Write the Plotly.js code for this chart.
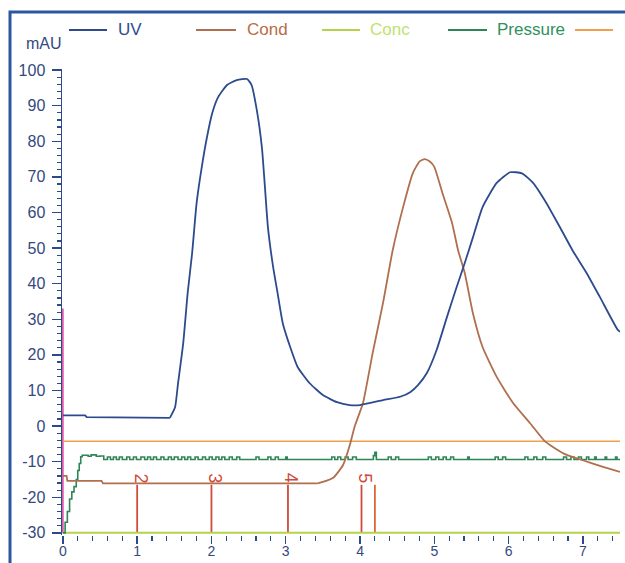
<!DOCTYPE html>
<html>
<head>
<meta charset="utf-8">
<script src="https://cdn.plot.ly/plotly-3.0.1.min.js"></script>
<style>html,body{margin:0;padding:0;background:#fff;}#chart{width:625px;height:563px;}</style>
</head>
<body>
<div id="chart"></div>
<script>
// ---- data ----
// UV baseline (straight steps) and UV peaks (smooth)
const uvBase = [[0,3.0],[0.3,3.0],[0.32,2.5],[1.0,2.4],[1.3,2.4],[1.44,2.3]];
const uvPeaks = [[1.44,2.3],[1.51,5.3],[1.55,12],[1.62,23.3],[1.68,37.4],[1.74,48.6],[1.80,62.6],[1.87,72.8],[1.94,81.2],[2.01,87.9],[2.09,92.4],[2.21,95.8],[2.34,97.2],[2.48,97.5],[2.54,95.8],[2.61,88.8],[2.68,78.1],[2.72,67.1],[2.76,55.9],[2.83,44.7],[2.89,37.4],[2.96,28.9],[3.06,22.2],[3.16,16.6],[3.32,12.1],[3.5,8.7],[3.69,6.7],[3.86,5.9],[4.0,5.9],[4.31,7.3],[4.55,8.3],[4.68,9.6],[4.78,11.5],[4.9,14.9],[5.03,21.3],[5.17,30.6],[5.3,39],[5.41,45.8],[5.52,53],[5.65,61.5],[5.84,68.3],[6.02,71.3],[6.18,71],[6.33,68.3],[6.51,62.6],[6.69,55.9],[6.86,49.4],[7.05,43],[7.23,36.2],[7.47,27],[7.5,26.5]];

// Cond baseline (straight steps) and Cond peak (smooth)
const condBase = [[0,-14],[0.05,-14],[0.06,-15.4],[0.52,-15.4],[0.54,-16.1],[3.43,-16.1]];
const condPeak = [[3.43,-16.1],[3.5,-15.7],[3.64,-14.5],[3.77,-11],[3.86,-5.5],[3.93,0],[4.04,6.5],[4.17,20.5],[4.31,34.6],[4.44,49.4],[4.58,61.5],[4.71,71],[4.8,74.3],[4.87,75],[4.94,74.3],[5.0,72.8],[5.11,65.4],[5.24,57],[5.32,49.4],[5.41,43],[5.52,31.7],[5.65,22.2],[5.84,13.8],[6.06,6.5],[6.29,0.8],[6.49,-4.3],[6.75,-7.8],[7.0,-9.6],[7.25,-11.3],[7.5,-12.9]];

const concPoints = [[0,-30],[7.5,-30]];

// pressure drawn as steps (each point = new level from that x on)
const pressurePoints = [[0,-30],[0.03,-27],[0.06,-24],[0.09,-20.5],[0.12,-18.5],[0.15,-17],[0.18,-15],[0.2,-12.5],[0.22,-10.5],[0.24,-8.6],[0.26,-8.2],[0.34,-8.5],[0.38,-8.1],[0.45,-8.5],[0.5,-8.4],[0.55,-9.4],
[0.6,-8.7],[0.64,-9.4],[0.68,-8.7],[0.72,-9.4],[0.76,-8.7],[0.8,-9.4],[0.86,-8.7],[0.9,-9.4],[0.95,-8.7],[0.99,-9.4],[1.05,-8.7],[1.1,-9.4],[1.14,-8.7],[1.18,-9.4],[1.22,-8.7],[1.26,-9.4],[1.32,-8.7],[1.36,-9.4],[1.42,-8.7],[1.46,-9.4],[1.5,-8.7],[1.55,-9.4],[1.6,-8.7],[1.64,-9.4],[1.68,-8.7],[1.72,-9.4],[1.78,-8.7],[1.82,-9.4],[1.88,-8.7],[1.92,-9.4],[1.97,-8.7],[2.01,-9.4],[2.06,-8.7],[2.1,-9.4],[2.14,-8.7],[2.18,-9.4],[2.24,-8.7],[2.28,-9.4],[2.34,-8.7],[2.38,-9.4],
[2.6,-8.7],[2.64,-9.4],[2.76,-8.7],[2.8,-9.4],[2.86,-8.7],[2.9,-9.4],[3.0,-8.7],[3.02,-9.4],[3.62,-8.7],[3.66,-9.4],[3.7,-8.7],[3.74,-9.4],[3.8,-8.7],[3.84,-9.4],[3.9,-8.7],[3.95,-9.4],[4.18,-8.3],[4.2,-7.4],[4.22,-9.4],[4.38,-8.7],[4.42,-9.4],[4.48,-8.7],[4.52,-9.4],[4.92,-8.7],[4.96,-9.4],[5.02,-8.7],[5.06,-9.4],[5.12,-8.7],[5.16,-9.4],[5.22,-8.7],[5.26,-9.4],[5.45,-8.7],[5.47,-9.4],[5.82,-8.7],[5.86,-9.4],[5.92,-8.7],[5.96,-9.4],[6.22,-8.7],[6.26,-9.4],[6.34,-8.7],[6.38,-9.4],[6.46,-8.7],[6.5,-9.4],[6.74,-8.7],[6.78,-9.4],[6.84,-8.7],[6.88,-9.4],[6.94,-8.7],[6.98,-9.4],[7.05,-8.7],[7.08,-9.4],[7.16,-8.7],[7.18,-9.4],[7.3,-8.7],[7.32,-9.4],[7.44,-8.7],[7.46,-9.4],[7.5,-9.4]];

const orangeLevel = -4.3;
const injectMark = [[0,-30],[0,33]];
const fractionX = [1.0, 2.0, 3.03, 4.02, 4.2];
const fractionLabels = ["2", "3", "4", "5", ""];
const fractionTop = -16.5;
const legendNames = ["UV", "Cond", "Conc", "Pressure", ""];
const xTicks = [0,1,2,3,4,5,6,7];
const yTicks = [-30,-20,-10,0,10,20,30,40,50,60,70,80,90,100];

// ---- styles ----
const C = {
  uv: '#2c4b8e', cond: '#b06f4e', conc: '#b4d24c', pressure: '#2f8558', orange: '#f0a04c',
  frac: '#cf4a3a', frac2: '#d9652f', inject: '#d8409a', axis: '#2c4a8a', tick: '#34497e', border: '#2b56a0'
};
const FONT = 'Liberation Sans, Arial, sans-serif';

const xs = p => p.map(d => d[0]);
const ys = p => p.map(d => d[1]);

const fracLX = [], fracLY = [];
fractionX.forEach(x => { fracLX.push(x, x, null); fracLY.push(-30, fractionTop, null); });

const traces = [
  {x: xs(injectMark), y: ys(injectMark), mode: 'lines', line: {color: C.inject, width: 1.5}},
  {x: [0, 7.5], y: [orangeLevel, orangeLevel], mode: 'lines', line: {color: C.orange, width: 1.5}},
  {x: fracLX.slice(0, 12), y: fracLY.slice(0, 12), mode: 'lines', line: {color: C.frac, width: 1.8}},
  {x: fracLX.slice(12), y: fracLY.slice(12), mode: 'lines', line: {color: C.frac2, width: 1.8}},
  {x: xs(concPoints), y: ys(concPoints), mode: 'lines', line: {color: C.conc, width: 2}},
  {x: xs(pressurePoints), y: ys(pressurePoints), mode: 'lines', line: {color: C.pressure, width: 1.6, shape: 'hv'}},
  {x: xs(condBase), y: ys(condBase), mode: 'lines', line: {color: C.cond, width: 1.8}},
  {x: xs(condPeak), y: ys(condPeak), mode: 'lines', line: {color: C.cond, width: 1.8, shape: 'spline', smoothing: 0.5}},
  {x: xs(uvBase), y: ys(uvBase), mode: 'lines', line: {color: C.uv, width: 1.8}},
  {x: xs(uvPeaks), y: ys(uvPeaks), mode: 'lines', line: {color: C.uv, width: 1.8, shape: 'spline', smoothing: 0.5}}
];

// pixel -> paper helpers (plot area: x 62..620, y 69..535)
const L = 62, R = 620, T = 69, B = 535;
const px = v => (v - L) / (R - L);
const py = v => (B - v) / (B - T);

const legendCols = [C.uv, C.cond, C.conc, C.pressure, C.orange];
const legendTextCols = ['#2c4b8e', '#b86c48', '#c2df70', '#2f9060', C.orange];
const legendLineX = [[69,107],[196,236],[322,360],[448,487],[575,613]];
const legendTextX = [116, 245, 368, 495, 620];

const shapes = [
  {type: 'rect', xref: 'paper', yref: 'paper', x0: px(10), x1: px(700), y0: py(12), y1: py(640),
   line: {color: C.border, width: 3}, fillcolor: 'rgba(0,0,0,0)', layer: 'below'}
];
const annotations = [
  {xref: 'paper', yref: 'paper', x: px(24), y: py(44), xanchor: 'left', yanchor: 'middle', text: 'mAU',
   showarrow: false, font: {family: FONT, size: 16, color: C.tick}}
];
legendNames.forEach((n, i) => {
  shapes.push({type: 'line', xref: 'paper', yref: 'paper', x0: px(legendLineX[i][0]), x1: px(legendLineX[i][1]),
    y0: py(30), y1: py(30), line: {color: legendCols[i], width: 2}});
  if (n) annotations.push({xref: 'paper', yref: 'paper', x: px(legendTextX[i]), y: py(30), xanchor: 'left', yanchor: 'middle',
    text: n, showarrow: false, font: {family: FONT, size: 17, color: legendTextCols[i]}});
});
fractionX.forEach((x, i) => {
  if (fractionLabels[i]) annotations.push({x: x + 0.045, y: -14.6, xref: 'x', yref: 'y', text: fractionLabels[i],
    textangle: 90, showarrow: false, font: {family: FONT, size: 18, color: C.frac}});
});

const layout = {
  width: 625, height: 563,
  margin: {l: L, r: 625 - R, t: T, b: 563 - B, pad: 0},
  paper_bgcolor: '#fff', plot_bgcolor: '#fff',
  showlegend: false,
  font: {family: FONT, size: 16, color: C.tick},
  xaxis: {
    range: [-0.012, 7.5], showgrid: false, zeroline: false, showline: false,
    tickmode: 'array', tickvals: xTicks, ticktext: xTicks.map(String),
    ticks: 'outside', ticklen: 8, tickwidth: 1.5, tickcolor: C.axis,
    minor: {dtick: 0.2, ticks: 'outside', ticklen: 5, tickwidth: 1.2, tickcolor: C.axis, showgrid: false},
    tickfont: {family: FONT, size: 14, color: C.tick}, ticklabelstandoff: -5
  },
  yaxis: {
    range: [-30.6, 100.3], showgrid: false, zeroline: false, showline: true, linecolor: C.axis, linewidth: 1.5,
    layer: 'below traces',
    tickmode: 'array', tickvals: yTicks, ticktext: yTicks.map(String),
    ticks: 'outside', ticklen: 9, tickwidth: 1.5, tickcolor: C.axis,
    minor: {dtick: 2, ticks: 'outside', ticklen: 4, tickwidth: 1.2, tickcolor: C.axis, showgrid: false},
    tickfont: {family: FONT, size: 16, color: C.tick}, ticklabelstandoff: 3
  },
  shapes: shapes,
  annotations: annotations
};

Plotly.newPlot('chart', traces, layout, {staticPlot: true, displayModeBar: false});
</script>
</body>
</html>
